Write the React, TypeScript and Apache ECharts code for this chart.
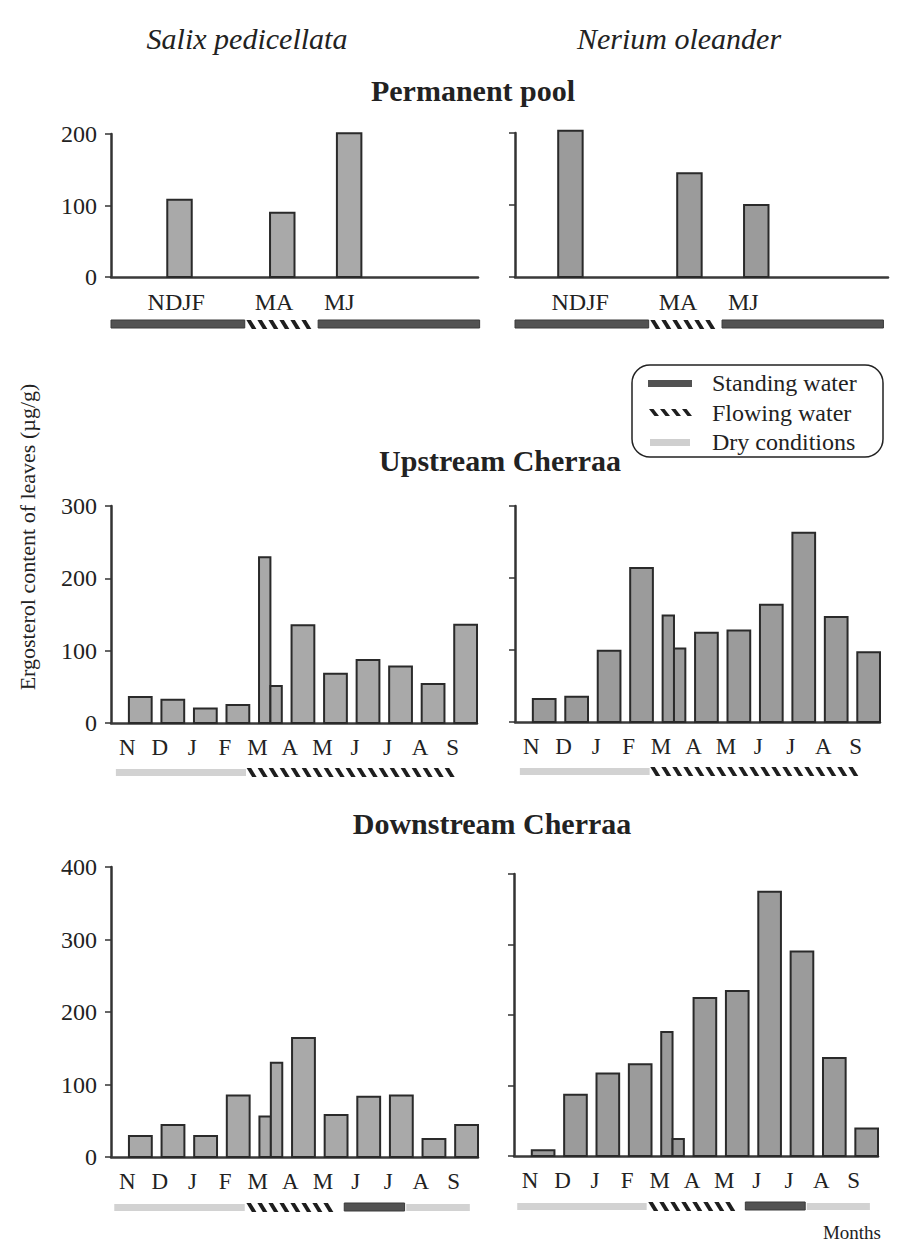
import React, { useEffect, useRef } from "react";
import * as echarts from "echarts";

// ---------- data ----------
const months = ["N", "D", "J", "F", "M", "A", "M", "J", "J", "A", "S"];
const poolLabels = ["NDJF", "MA", "MJ"];
const poolLabelPos = [1.5, 4.5, 6.5];

// permanent pool: one value per period, placed at the period position (month units)
const poolSalixPos = [1.6, 4.75, 6.8];
const poolSalix = [108, 90, 201];
const poolNeriumPos = [1.2, 4.85, 6.9];
const poolNerium = [203, 144, 100];

// monthly samplings (two samplings in March)
const sampleMonth = [0, 1, 2, 3, 4, 4, 5, 6, 7, 8, 9, 10];
const sampleSplit = [0, 0, 0, 0, -1, 1, 0, 0, 0, 0, 0, 0];
const upSalix = [36, 32, 20, 25, 229, 51, 135, 68, 87, 78, 54, 136];
const upNerium = [32, 35, 99, 214, 148, 102, 124, 127, 163, 263, 146, 97];
const downSalix = [29, 44, 29, 85, 56, 130, 164, 58, 83, 85, 25, 44];
const downNerium = [8, 87, 117, 130, 176, 24, 224, 234, 375, 290, 139, 39];

// hydrological conditions: [from, to, type] in month units; 0 standing, 1 flowing, 2 dry
const conditionNames = ["Standing water", "Flowing water", "Dry conditions"];
const poolConditions = [
  [-0.5, 3.6, 0],
  [3.65, 5.8, 1],
  [5.85, 10.8, 0],
];
const upConditions = [
  [-0.35, 3.65, 2],
  [3.67, 10.3, 1],
];
const downConditions = [
  [-0.4, 3.6, 2],
  [3.65, 6.6, 1],
  [6.65, 8.5, 0],
  [8.55, 10.5, 2],
];

const yTicksInterval = 100;

// ---------- styling ----------
const FONT = '"Liberation Serif", "Times New Roman", serif';
const TXT = "#222";
const SALIX_FILL = "#a9a9a9";
const NERIUM_FILL = "#9b9b9b";

function hatch(x0: number, x1: number, y: number, h: number, z?: number) {
  const children: any[] = [];
  for (let x = x0; x + 10 <= x1 + 0.5; x += 11) {
    const el: any = {
      type: "polygon",
      shape: { points: [[x, y], [x + 4.5, y], [x + 10, y + h], [x + 5.5, y + h]] },
      style: { fill: "#1e1e1e" },
    };
    if (z !== undefined) el.z = z;
    children.push(el);
  }
  return children;
}

type Panel = {
  left: number; top: number; width: number; height: number;
  yMax: number; xMax: number; showY: boolean; pool: boolean;
  values: number[]; pos: number[] | null; conds: number[][];
  fill: string; condOffset: number;
};

const panels: Panel[] = [
  { left: 111, top: 134, width: 367, height: 143, yMax: 200, xMax: 10.75, showY: true, pool: true,
    values: poolSalix, pos: poolSalixPos, conds: poolConditions, fill: SALIX_FILL, condOffset: 43 },
  { left: 515, top: 133, width: 373, height: 144, yMax: 200, xMax: 10.94, showY: false, pool: true,
    values: poolNerium, pos: poolNeriumPos, conds: poolConditions, fill: NERIUM_FILL, condOffset: 43 },
  { left: 111, top: 506, width: 366, height: 217, yMax: 300, xMax: 10.75, showY: true, pool: false,
    values: upSalix, pos: null, conds: upConditions, fill: SALIX_FILL, condOffset: 45 },
  { left: 515, top: 506, width: 365, height: 216, yMax: 300, xMax: 10.75, showY: false, pool: false,
    values: upNerium, pos: null, conds: upConditions, fill: NERIUM_FILL, condOffset: 45 },
  { left: 111, top: 867, width: 367, height: 290, yMax: 400, xMax: 10.75, showY: true, pool: false,
    values: downSalix, pos: null, conds: downConditions, fill: SALIX_FILL, condOffset: 46 },
  { left: 514, top: 874, width: 364, height: 282, yMax: 400, xMax: 10.75, showY: false, pool: false,
    values: downNerium, pos: null, conds: downConditions, fill: NERIUM_FILL, condOffset: 46 },
];

function buildOption() {
  const grid = panels.map((p) => ({ left: p.left, top: p.top, width: p.width, height: p.height }));

  const xAxis = panels.map((p, i) => ({
    type: "value",
    gridIndex: i,
    min: -0.5,
    max: p.xMax,
    interval: 0.5,
    axisLine: { show: true, onZero: false, lineStyle: { color: "#3a3a3a", width: 2.5 } },
    axisTick: { show: false },
    splitLine: { show: false },
    axisLabel: {
      fontFamily: FONT,
      fontSize: p.pool ? 24 : 23,
      color: TXT,
      margin: 13,
      formatter: (v: number) => {
        if (p.pool) {
          const k = poolLabelPos.findIndex((q) => Math.abs(q - v) < 1e-6);
          return k >= 0 ? poolLabels[k] : "";
        }
        const r = Math.round(v);
        if (Math.abs(r - v) < 1e-6 && r >= 0 && r < months.length) return months[r];
        return "";
      },
    },
  }));

  const yAxis = panels.map((p, i) => ({
    type: "value",
    gridIndex: i,
    min: 0,
    max: p.yMax,
    interval: yTicksInterval,
    axisLine: { show: true, onZero: false, lineStyle: { color: "#333", width: 2.5 } },
    axisTick: { show: true, length: 6, lineStyle: { color: "#333", width: 1.5 } },
    splitLine: { show: false },
    axisLabel: { show: p.showY, fontFamily: FONT, fontSize: 24, color: TXT, margin: 14 },
  }));

  const series: any[] = [];
  panels.forEach((p, i) => {
    const off = p.pool ? 0 : 0.4;
    const w = p.pool ? 0.75 : 0.7;
    const data = p.pool
      ? p.values.map((v, j) => [p.pos![j], v, 0])
      : p.values.map((v, j) => [sampleMonth[j], v, sampleSplit[j]]);
    series.push({
      type: "custom",
      xAxisIndex: i,
      yAxisIndex: i,
      data,
      z: 3,
      renderItem: (params: any, api: any) => {
        const m = api.value(0) as number;
        const v = api.value(1) as number;
        const s = api.value(2) as number;
        const c = m + off;
        const x0 = s > 0 ? c : c - w / 2;
        const x1 = s < 0 ? c : c + w / 2;
        const a = api.coord([x0, v]);
        const b = api.coord([x1, 0]);
        return {
          type: "rect",
          shape: { x: a[0], y: a[1], width: b[0] - a[0], height: b[1] - a[1] },
          style: { fill: p.fill, stroke: "#2a2a2a", lineWidth: 2 },
        };
      },
    });
    series.push({
      type: "custom",
      xAxisIndex: i,
      yAxisIndex: i,
      clip: false,
      silent: true,
      data: p.conds.map((c) => [c[0], 0, c[1], c[2]]),
      renderItem: (params: any, api: any) => {
        const a = api.coord([api.value(0), 0]);
        const b = api.coord([api.value(2), 0]);
        const t = api.value(3);
        const y = a[1] + p.condOffset;
        if (t === 0) {
          return {
            type: "rect",
            shape: { x: a[0], y, width: b[0] - a[0], height: 8 },
            style: { fill: "#525252", stroke: "#3a3a3a", lineWidth: 1 },
          };
        }
        if (t === 2) {
          return {
            type: "rect",
            shape: { x: a[0], y: y + 1, width: b[0] - a[0], height: 7 },
            style: { fill: "#d2d2d2" },
          };
        }
        return { type: "group", children: hatch(a[0], b[0], y, 9) };
      },
    });
  });

  const text = (x: number, y: number, t: string, extra: any = {}, styleExtra: any = {}) => ({
    type: "text",
    x,
    y,
    ...extra,
    style: {
      text: t,
      fill: TXT,
      fontFamily: FONT,
      fontSize: 24,
      align: "center",
      verticalAlign: "middle",
      ...styleExtra,
    },
  });

  const graphic: any[] = [
    text(247, 38, "Salix pedicellata", {}, { fontSize: 30, fontStyle: "italic" }),
    text(679, 38, "Nerium oleander", {}, { fontSize: 30, fontStyle: "italic" }),
    text(473, 90, "Permanent pool", {}, { fontSize: 30, fontWeight: "bold" }),
    text(500, 460, "Upstream Cherraa", {}, { fontSize: 30, fontWeight: "bold" }),
    text(492, 823, "Downstream Cherraa", {}, { fontSize: 30, fontWeight: "bold" }),
    text(27, 537, "Ergosterol content of leaves (µg/g)", { rotation: Math.PI / 2 }, { fontSize: 22 }),
    text(881, 1232, "Months", {}, { fontSize: 19, align: "right" }),
    // legend
    {
      type: "rect",
      shape: { x: 632, y: 365, width: 251, height: 92, r: 18 },
      style: { fill: "none", stroke: "#222", lineWidth: 1.5 },
      z: 10,
    },
    {
      type: "rect",
      shape: { x: 648, y: 380, width: 44, height: 7 },
      style: { fill: "#525252" },
      z: 11,
    },
    ...hatch(649, 694, 409, 7, 11),
    {
      type: "rect",
      shape: { x: 650, y: 439, width: 40, height: 7 },
      style: { fill: "#cfcfcf" },
      z: 11,
    },
    { ...text(712, 383, conditionNames[0], {}, { align: "left" }), z: 11 },
    { ...text(712, 413, conditionNames[1], {}, { align: "left" }), z: 11 },
    { ...text(712, 442, conditionNames[2], {}, { align: "left" }), z: 11 },
  ];

  return {
    animation: false,
    backgroundColor: "#fff",
    textStyle: { fontFamily: FONT },
    grid,
    xAxis,
    yAxis,
    series,
    graphic,
  };
}

export default function App() {
  const ref = useRef<HTMLDivElement>(null);
  useEffect(() => {
    document.body.style.margin = "0";
    const chart = echarts.init(ref.current!, null, { renderer: "svg" });
    chart.setOption(buildOption() as any);
    return () => chart.dispose();
  }, []);
  return <div ref={ref} style={{ width: 909, height: 1249 }} />;
}
